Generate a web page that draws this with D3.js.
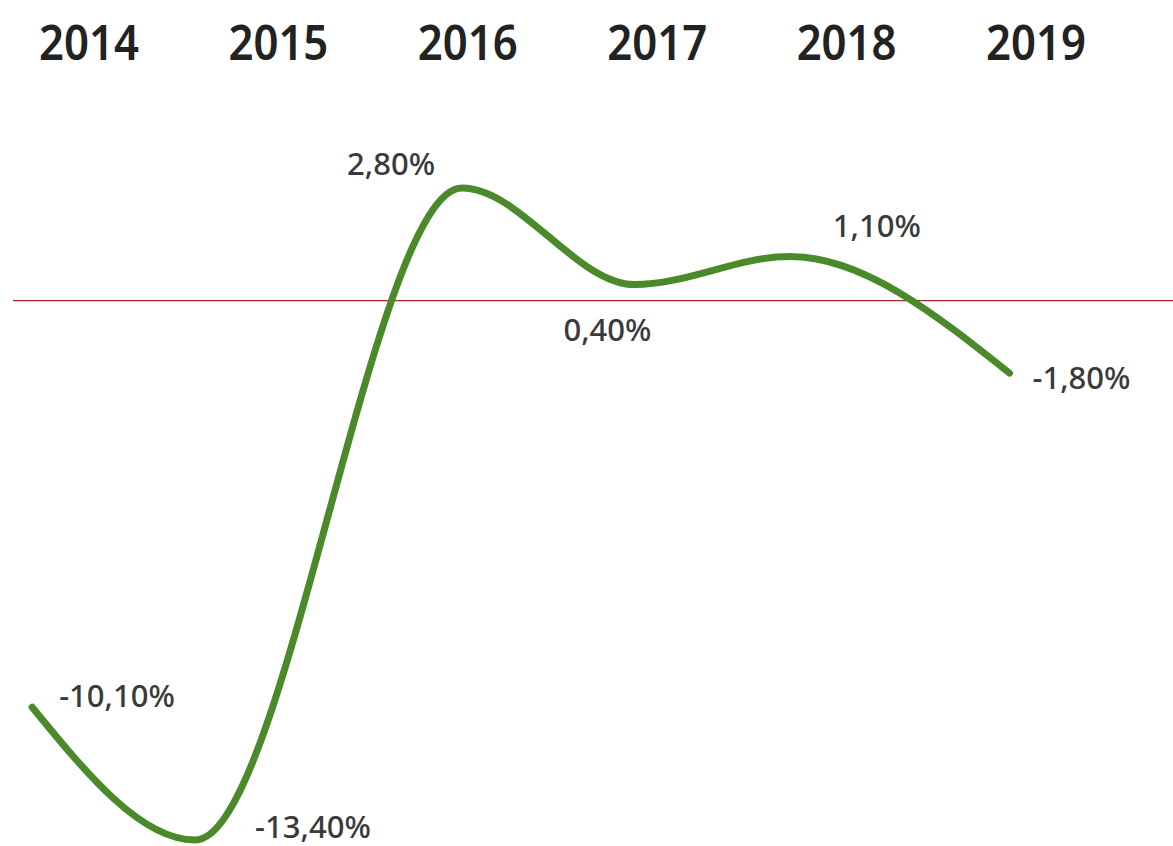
<!DOCTYPE html>
<html>
<head>
<meta charset="utf-8">
<script src="https://cdn.jsdelivr.net/npm/d3@7"></script>
<style>
  html, body { margin: 0; padding: 0; background: #fff; }
  svg { display: block; }
</style>
</head>
<body>
<svg id="chart" width="1173" height="846"></svg>
<script>
// Annual change, 2014–2019
const years = [2014, 2015, 2016, 2017, 2018, 2019];
const values = [-10.1, -13.4, 2.8, 0.4, 1.1, -1.8];
// where each observation sits along the time axis (fractional year)
const pointTimes = [2013.70, 2014.56, 2015.97, 2016.88, 2017.70, 2018.86];
const valueLabels = ["-10,10%", "-13,40%", "2,80%", "0,40%", "1,10%", "-1,80%"];

// label placement relative to each point: [dx, dy, anchor]
const labelOffsets = [
  [27, -11, "start"],
  [60, -13, "start"],
  [-27, -24, "end"],
  [-27, 46, "middle"],
  [87, -30, "middle"],
  [23, 5, "start"]
];

const width = 1173, height = 846;
const svg = d3.select("#chart");

const x = d3.scaleLinear().domain([2014, 2019]).range([89, 1036]);
const y = d3.scaleLinear().domain([-13.4, 2.8]).range([840, 188]);

const FONT = "'Noto Sans', 'Open Sans', sans-serif";

// year axis across the top
const axis = d3.axisTop(x).tickValues(years).tickFormat(d3.format("d")).tickSize(0);
const gAxis = svg.append("g").attr("transform", "translate(0,60)").call(axis);
gAxis.select(".domain").remove();
gAxis.selectAll(".tick text")
  .attr("y", 0).attr("dy", 0)
  .attr("transform", "scale(0.91,1)")
  .style("font-family", FONT)
  .style("font-size", "48px")
  .style("font-weight", 600)
  .style("fill", "#222");
// keep the condensed labels centred on their ticks
gAxis.selectAll(".tick").each(function (d) {
  d3.select(this).attr("transform", `translate(${x(d)},0)`);
});

// zero reference line
svg.append("line")
  .attr("x1", 13).attr("x2", width)
  .attr("y1", y(0)).attr("y2", y(0))
  .attr("stroke", "#a3262d")
  .attr("stroke-width", 1.2);

const pts = values.map((v, i) => ({ t: pointTimes[i], v, label: valueLabels[i], off: labelOffsets[i] }));

const line = d3.line()
  .x(d => x(d.t))
  .y(d => y(d.v))
  .curve(d3.curveMonotoneX);

svg.append("path")
  .datum(pts)
  .attr("d", line)
  .attr("fill", "none")
  .attr("stroke", "#4a8a2b")
  .attr("stroke-width", 7)
  .attr("stroke-linecap", "round")
  .attr("stroke-linejoin", "round");

svg.append("g").selectAll("text")
  .data(pts)
  .join("text")
  .attr("x", d => x(d.t) + d.off[0])
  .attr("y", d => y(d.v) + d.off[1])
  .attr("dy", "0.35em")
  .attr("text-anchor", d => d.off[2])
  .style("font-family", FONT)
  .style("font-size", "31px")
  .style("font-weight", 500)
  .style("fill", "#3a3a3a")
  .text(d => d.label);
</script>
</body>
</html>
